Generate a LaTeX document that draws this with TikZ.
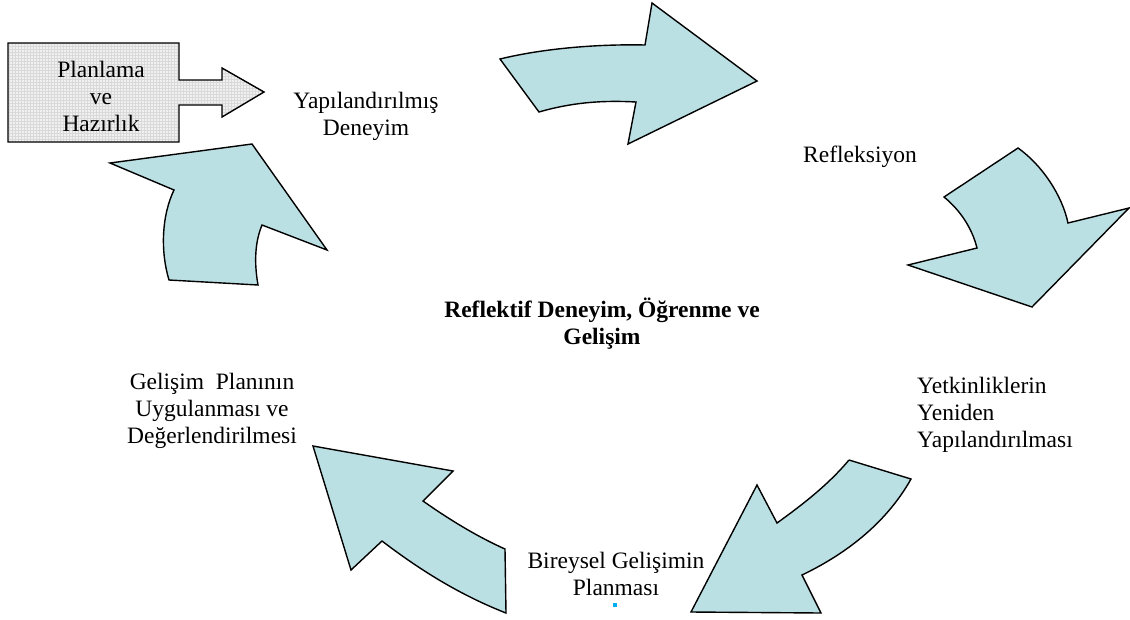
\documentclass[tikz,border=0pt]{standalone}
\usepackage{fontspec}
\setmainfont{Liberation Serif}
\usepackage{xcolor}
\usetikzlibrary{patterns}
\definecolor{arrowblue}{RGB}{187,224,227}
\tikzset{x=1pt, y=-1pt,
 cyclearrow/.style={draw=black, line width=1.4pt, line join=miter, fill=arrowblue},
 prepbox/.style={draw=black, line width=1.4pt, preaction={fill=gray!12}, pattern=grid, pattern color=gray!30},
 steplabel/.style={font=\fontsize{23.5}{27}\selectfont, align=center, inner sep=0pt},
 }

\begin{document}
\begin{tikzpicture}
        \useasboundingbox (0,0) rectangle (1130,619);

        % block arrows of the cycle
        \draw[cyclearrow] (500,59) .. controls (545,48) and (600,44) .. (645,45) -- (652,3) -- (757,81)
            -- (628,144) -- (636,102) .. controls (600,100) and (570,103) .. (539,112) -- cycle;
        \draw[cyclearrow] (1018,148) .. controls (1042,165) and (1062,195) .. (1068,223) -- (1129,208)
            -- (1032,307) -- (908,265) -- (977,248) .. controls (972,228) and (960,210) .. (944,197) -- cycle;
        \draw[cyclearrow] (849,460) -- (911,479) .. controls (888,520) and (850,552) .. (802,575) -- (821,613)
            -- (691,612) -- (757,485) -- (777,523) .. controls (802,505) and (828,485) .. (849,460);
        \draw[cyclearrow] (313,446) -- (453,471) -- (423,501) .. controls (450,520) and (478,537) .. (505,549)
            -- (506,613) .. controls (460,595) and (420,570) .. (382,541) -- (351,570) -- cycle;
        \draw[cyclearrow] (110,163) -- (252,144) -- (327,250) -- (262,225) .. controls (255,242) and (254,262) .. (258,285)
            -- (169,280) .. controls (160,250) and (162,215) .. (174,190) -- cycle;

        % planning box
        \draw[prepbox] (8,43) -- (179,43) -- (179,80) -- (222,80) -- (222,68) -- (264,92) -- (222,117)
            -- (222,105) -- (179,105) -- (179,142) -- (8,142) -- cycle;
        \node[steplabel] (prep) at (101,96) {Planlama\\ve\\Hazırlık};

        % stages
        \node[steplabel] (structured) at (366,116) {Yapılandırılmış\\Deneyim};
        \node[steplabel] (reflection) at (860,157) {Refleksiyon};
        \node[steplabel, align=left, anchor=west] (rebuild) at (917,415) {Yetkinliklerin\\Yeniden\\Yapılandırılması};
        \node[steplabel] (plan) at (616,574) {Bireysel Gelişimin\\Planması};
        \node[steplabel] (apply) at (212,411) {Gelişim\ \ Planının\\Uygulanması ve\\Değerlendirilmesi};
        \node[steplabel, font=\fontsize{23.5}{27}\selectfont\bfseries] (centre) at (602,324) {Reflektif Deneyim, Öğrenme ve\\Gelişim};

        \fill[cyan] (613,603) rectangle (617,607);
    \end{tikzpicture}
\end{document}
